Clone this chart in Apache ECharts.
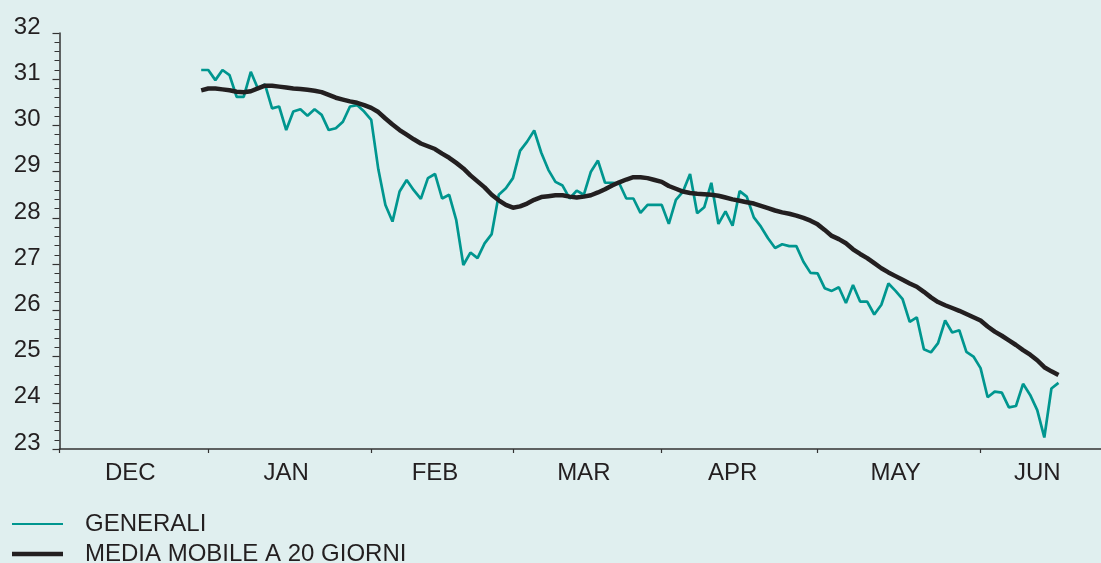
<!DOCTYPE html>
<html>
<head>
<meta charset="utf-8">
<script src="https://cdn.jsdelivr.net/npm/echarts@6/dist/echarts.min.js"></script>
<style>
  html, body { margin: 0; padding: 0; background: #e0efef; }
  #chart { width: 1101px; height: 563px; }
</style>
</head>
<body>
<div id="chart"></div>
<script>
// mesi sull'asse x e numero di giorni lavorativi di ciascuno
const months = ['DEC', 'JAN', 'FEB', 'MAR', 'APR', 'MAY', 'JUN'];
const daysPerMonth = [21, 23, 20, 21, 22, 23, 18];

// giorni vuoti prima del primo dato
const leadingEmptyDays = 20;

// prezzo di chiusura GENERALI
const generali = [
  31.20, 31.20, 30.98, 31.20, 31.09, 30.62, 30.62, 31.16, 30.80, 30.89,
  30.37, 30.41, 29.90, 30.30, 30.35, 30.21, 30.35, 30.23, 29.90, 29.94,
  30.08, 30.41, 30.44, 30.30, 30.12, 29.05, 28.28, 27.92, 28.57, 28.82,
  28.60, 28.41, 28.86, 28.95, 28.42, 28.50, 27.95, 26.98, 27.25, 27.13,
  27.45, 27.65, 28.50, 28.64, 28.86, 29.45, 29.65, 29.89, 29.41, 29.04,
  28.78, 28.70, 28.42, 28.59, 28.50, 29.00, 29.24, 28.76, 28.76, 28.75,
  28.42, 28.42, 28.11, 28.28, 28.28, 28.28, 27.87, 28.39, 28.57, 28.95,
  28.10, 28.23, 28.76, 27.87, 28.14, 27.83, 28.58, 28.46, 28.01, 27.81,
  27.56, 27.35, 27.43, 27.39, 27.39, 27.05, 26.81, 26.80, 26.48, 26.42,
  26.50, 26.16, 26.55, 26.19, 26.19, 25.91, 26.12, 26.58, 26.42, 26.24,
  25.75, 25.85, 25.16, 25.09, 25.29, 25.78, 25.52, 25.57, 25.10, 25.00,
  24.75, 24.12, 24.24, 24.22, 23.90, 23.93, 24.41, 24.17, 23.84, 23.25,
  24.31, 24.43
];

// media mobile a 20 giorni
const media20 = [
  30.76, 30.80, 30.80, 30.78, 30.76, 30.73, 30.72, 30.74, 30.80, 30.86,
  30.86, 30.84, 30.82, 30.80, 30.79, 30.77, 30.75, 30.72, 30.66, 30.60,
  30.56, 30.52, 30.49, 30.44, 30.38, 30.29, 30.15, 30.02, 29.90, 29.80,
  29.70, 29.61, 29.55, 29.49, 29.39, 29.30, 29.19, 29.07, 28.92, 28.79,
  28.66, 28.50, 28.38, 28.28, 28.22, 28.25, 28.31, 28.39, 28.45, 28.47,
  28.49, 28.49, 28.46, 28.44, 28.46, 28.49, 28.55, 28.62, 28.70, 28.77,
  28.83, 28.88, 28.88, 28.86, 28.82, 28.78, 28.69, 28.63, 28.57, 28.54,
  28.52, 28.51, 28.50, 28.48, 28.44, 28.40, 28.37, 28.34, 28.31, 28.26,
  28.21, 28.16, 28.12, 28.09, 28.05, 28.00, 27.94, 27.86, 27.74, 27.61,
  27.54, 27.45, 27.32, 27.22, 27.13, 27.02, 26.91, 26.82, 26.74, 26.66,
  26.58, 26.51, 26.40, 26.28, 26.18, 26.11, 26.05, 25.99, 25.92, 25.85,
  25.78, 25.65, 25.54, 25.45, 25.35, 25.25, 25.14, 25.04, 24.92, 24.77,
  24.68, 24.60
];

// categorie: un elemento per ogni giorno lavorativo
const categories = [];
const monthStart = new Set();
const monthLabel = {};
months.forEach((m, k) => {
  const start = categories.length;
  monthStart.add(start);
  monthLabel[start + Math.floor((daysPerMonth[k] - 1) / 2)] = m;
  for (let d = 1; d <= daysPerMonth[k]; d++) {
    categories.push(m + ' ' + d);
  }
});

const pad = arr => Array(leadingEmptyDays).fill(null).concat(arr);

const textColor = '#231f20';
const axisColor = '#333333';
const tealColor = '#00968f';

const myChart = echarts.init(document.getElementById('chart'));

const option = {
  backgroundColor: '#e0efef',
  animation: false,
  grid: { left: 59.5, right: 0, top: 33, bottom: 114 },
  legend: {
    orient: 'vertical',
    left: 12,
    top: 512,
    height: 120,
    padding: 0,
    itemWidth: 51,
    itemHeight: 14,
    itemGap: 6,
    textStyle: {
      fontFamily: 'Liberation Sans',
      fontSize: 24,
      lineHeight: 22,
      color: textColor,
      padding: [0, 0, 0, 17]
    },
    data: [
      { name: 'GENERALI', icon: 'path://M0 0H51V2.2H0Z', itemStyle: { color: tealColor } },
      { name: 'MEDIA MOBILE A 20 GIORNI', icon: 'path://M0 0H51V4.5H0Z', itemStyle: { color: textColor } }
    ]
  },
  xAxis: {
    type: 'category',
    data: categories,
    boundaryGap: false,
    axisLine: { lineStyle: { color: axisColor, width: 1.5 } },
    axisTick: {
      interval: idx => monthStart.has(idx),
      length: 4,
      lineStyle: { color: axisColor, width: 1.2 }
    },
    axisLabel: {
      interval: idx => monthLabel[idx] !== undefined,
      formatter: (value, idx) => monthLabel[idx] || '',
      fontFamily: 'Liberation Sans',
      fontSize: 24,
      color: textColor,
      margin: 12
    },
    splitLine: { show: false }
  },
  yAxis: {
    type: 'value',
    min: 23,
    max: 32,
    interval: 1,
    axisLine: { show: true, lineStyle: { color: axisColor, width: 1.5 } },
    axisTick: { show: true, length: 7, lineStyle: { color: axisColor, width: 1.2 } },
    minorTick: { show: true, splitNumber: 5, length: 5, lineStyle: { color: axisColor, width: 1 } },
    axisLabel: {
      fontFamily: 'Liberation Sans',
      fontSize: 24,
      color: textColor,
      margin: 19,
      verticalAlign: 'bottom',
      lineHeight: 12
    },
    splitLine: { show: false }
  },
  series: [
    {
      name: 'GENERALI',
      type: 'line',
      data: pad(generali),
      symbol: 'none',
      lineStyle: { color: tealColor, width: 2.7 },
      itemStyle: { color: tealColor }
    },
    {
      name: 'MEDIA MOBILE A 20 GIORNI',
      type: 'line',
      data: pad(media20),
      symbol: 'none',
      lineStyle: { color: textColor, width: 4.5 },
      itemStyle: { color: textColor }
    }
  ]
};

myChart.setOption(option);
</script>
</body>
</html>
